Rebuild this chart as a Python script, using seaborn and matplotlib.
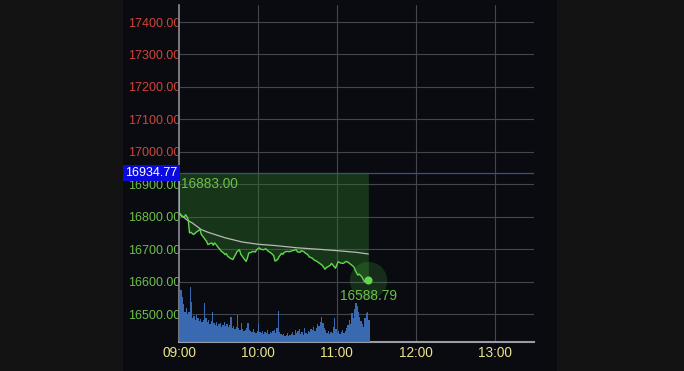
import numpy as np
import pandas as pd
import matplotlib
matplotlib.use("Agg")
import matplotlib.pyplot as plt
import matplotlib.transforms as mtransforms
from matplotlib.patches import Rectangle
import seaborn as sns

# ---------------- data ----------------
prev_close = 16934.77
open_text = "16883.00"
low_text = "16588.79"

price_minutes = [0, 0, 1, 2, 4, 5, 6, 7, 8, 9, 11, 12, 13, 14, 16, 17, 18, 20, 21, 22, 24, 25,
                 26, 27, 28, 30, 31, 32, 34, 35, 36, 37, 39, 41, 42, 43, 44, 46, 47, 49, 51,
                 52, 53, 55, 56, 58, 59, 61, 62, 64, 66, 68, 70, 72, 73, 75, 76, 78, 79, 80,
                 82, 84, 86, 88, 89, 90, 92, 93, 95, 96, 98, 99, 101, 103, 105, 107, 109,
                 111, 112, 113, 115, 116, 118, 119, 121, 123, 125, 127, 128, 130, 131, 133,
                 134, 136, 137, 139, 141, 142, 144]
price_values = [16883, 16815, 16806, 16801, 16798, 16806, 16800, 16791, 16750, 16752, 16745,
                16748, 16752, 16755, 16760, 16745, 16740, 16729, 16724, 16714, 16718, 16719,
                16712, 16719, 16715, 16704, 16700, 16694, 16688, 16683, 16686, 16678, 16672,
                16668, 16676, 16683, 16692, 16698, 16684, 16673, 16662, 16672, 16688, 16690,
                16693, 16691, 16698, 16704, 16700, 16698, 16701, 16693, 16688, 16680, 16663,
                16668, 16676, 16687, 16684, 16690, 16693, 16692, 16695, 16697, 16699, 16692,
                16690, 16695, 16692, 16688, 16683, 16676, 16673, 16666, 16662, 16656, 16650,
                16638, 16643, 16645, 16650, 16656, 16646, 16641, 16661, 16657, 16656, 16662,
                16661, 16655, 16652, 16645, 16635, 16620, 16623, 16615, 16600, 16603, 16606]

avg_minutes = [0, 3, 6, 10, 17, 22, 35, 48, 60, 73, 90, 108, 121, 135, 144]
avg_values = [16811, 16800, 16790, 16781, 16760, 16752, 16735, 16722, 16715, 16711, 16704,
              16699, 16695, 16690, 16685]

volume = [59, 52, 45, 38, 30, 34, 28, 30, 55, 40, 24, 26, 22, 27, 24, 21, 23, 20, 22, 39,
          24, 20, 22, 18, 21, 30, 19, 17, 20, 16, 18, 19, 15, 17, 20, 16, 18, 15, 17, 25,
          14, 16, 13, 15, 27, 14, 12, 19, 13, 11, 12, 14, 19, 12, 11, 10, 13, 10, 9, 11,
          18, 10, 9, 11, 8, 10, 9, 12, 8, 10, 9, 11, 12, 9, 14, 31, 10, 8, 7, 8,
          6, 7, 9, 6, 7, 8, 10, 7, 12, 9, 11, 13, 8, 10, 7, 14, 9, 8, 11, 10,
          13, 12, 15, 11, 14, 18, 16, 20, 25, 19, 14, 12, 9, 11, 8, 10, 9, 15, 24, 13,
          9, 11, 8, 10, 12, 9, 11, 14, 17, 22, 18, 29, 24, 33, 39, 36, 30, 25, 21, 18,
          15, 24, 29, 30, 22]

y_ticks = [16500, 16600, 16700, 16800, 16900, 17000, 17100, 17200, 17300, 17400]
x_tick_minutes = [0, 60, 120, 180, 240]
x_tick_labels = ["09:00", "10:00", "11:00", "12:00", "13:00"]

price_df = pd.DataFrame({"minute": price_minutes, "price": price_values})
avg_df = pd.DataFrame({"minute": avg_minutes, "avg": avg_values})
vol_df = pd.DataFrame({"minute": np.arange(len(volume)) + 0.5, "volume": volume})

# ---------------- style ----------------
sns.set_theme(style="dark")
plt.rcParams["font.family"] = ["Liberation Sans", "DejaVu Sans"]

W, H = 684, 371
fig = plt.figure(figsize=(W / 100, H / 100), dpi=100, facecolor="#131313")
fig.patches.append(Rectangle((123 / W, 0), (557 - 123) / W, 1, transform=fig.transFigure,
                             facecolor="#090b10", edgecolor="none", zorder=-5))

ax = fig.add_axes([179 / W, 29 / H, 355 / W, 337 / H])
ax.set_facecolor("none")
ax.set_xlim(0, 270)
ax.set_ylim(16413.7, 17452.4)

# grid
for yv in y_ticks:
    ax.axhline(yv, color="#43464e", lw=0.8, zorder=1)
for xv in x_tick_minutes[1:]:
    ax.axvline(xv, color="#43464e", lw=0.8, zorder=1)

# previous close line
ax.axhline(prev_close, color="#34508f", lw=0.9, zorder=2)

# green fill between price and previous close
ax.fill_between(price_df["minute"], price_df["price"], prev_close,
                color="#2f7a2a", alpha=0.38, lw=0, zorder=2)
ax.vlines(price_minutes[0], price_values[1], prev_close, color="#5fd84a", lw=1.2, zorder=4)

# average line
sns.lineplot(data=avg_df, x="minute", y="avg", ax=ax, color="#b9b9b9", lw=0.9,
             estimator=None, sort=False, zorder=3)
# price line
sns.lineplot(data=price_df, x="minute", y="price", ax=ax, color="#5fd84a", lw=1.0,
             estimator=None, sort=False, zorder=4)

# last point dot with halo
last_x = price_minutes[-1]
last_y = price_values[-1]
ax.scatter([last_x], [last_y], s=720, color="#4fb83f", alpha=0.2, lw=0, zorder=3)
ax.scatter([last_x], [last_y], s=34, color="#5fd84a", lw=0, zorder=5)

ax.text(last_x, 16555, low_text, color="#6cc04a", fontsize=9.8, ha="center", va="center",
        zorder=6)
ax.text(1.5, 16900, open_text, color="#6cc04a", fontsize=9.8, ha="left", va="center",
        zorder=6)

# ticks
ax.set_yticks(y_ticks)
ax.set_yticklabels([f"{v:.2f}" for v in y_ticks])
for lbl, v in zip(ax.get_yticklabels(), y_ticks):
    lbl.set_color("#d0453a" if v > prev_close else "#6cc04a")
    lbl.set_fontsize(9)
ax.set_xticks(x_tick_minutes)
ax.set_xticklabels(x_tick_labels, color="#ece48a", fontsize=9.8)
ax.tick_params(axis="y", length=0, pad=-1)
ax.tick_params(axis="x", length=0, pad=3)
ax.set_xlabel("")
ax.set_ylabel("")

for s in ["top", "right"]:
    ax.spines[s].set_visible(False)
ax.spines["left"].set_color("#8a8d94")
ax.spines["left"].set_linewidth(1.2)
ax.spines["bottom"].set_color("#9a9da4")
ax.spines["bottom"].set_linewidth(1.5)

# previous close label box
trans = mtransforms.blended_transform_factory(ax.transAxes, ax.transData)
ax.text(-0.004, prev_close, f"{prev_close:.2f}", transform=trans, ha="right", va="center",
        color="white", fontsize=9, zorder=7, clip_on=False,
        bbox=dict(boxstyle="square,pad=0.18", facecolor="#0a0adf", edgecolor="none"))

# volume on twin axis
ax2 = ax.twinx()
ax2.set_facecolor("none")
sns.histplot(data=vol_df, x="minute", weights="volume", binwidth=1,
             binrange=(0, len(volume)), ax=ax2, color="#3c6fba", alpha=0.95,
             edgecolor="none", linewidth=0, zorder=2)
ax2.set_ylim(0, max(volume) * 337 / 59)
ax2.set_xlim(0, 270)
ax2.set_yticks([])
ax2.set_ylabel("")
for s in ax2.spines.values():
    s.set_visible(False)
ax2.grid(False)
ax.grid(False)

fig.savefig("out.png", dpi=100, facecolor=fig.get_facecolor())
